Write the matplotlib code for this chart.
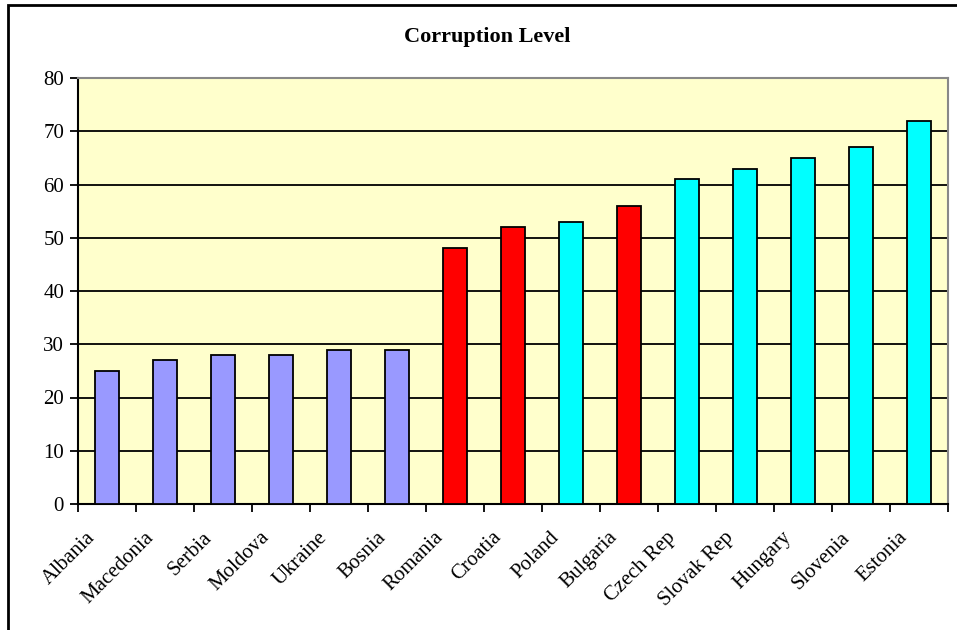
import matplotlib
matplotlib.use("Agg")
import matplotlib.pyplot as plt
from matplotlib.patches import Rectangle
from matplotlib.transforms import ScaledTranslation, blended_transform_factory

countries = ["Albania", "Macedonia", "Serbia", "Moldova", "Ukraine", "Bosnia",
             "Romania", "Croatia", "Poland", "Bulgaria", "Czech Rep",
             "Slovak Rep", "Hungary", "Slovenia", "Estonia"]
scores = [25, 27, 28, 28, 29, 29, 48, 52, 53, 56, 61, 63, 65, 67, 72]
groups = ["low", "low", "low", "low", "low", "low", "mid", "mid", "high",
          "mid", "high", "high", "high", "high", "high"]
y_ticks = [0, 10, 20, 30, 40, 50, 60, 70, 80]

group_colors = {"low": "#9999FF", "mid": "#FF0000", "high": "#00FFFF"}

plt.rcParams["font.family"] = ["Liberation Serif", "DejaVu Serif"]

W, H = 957, 630
fig = plt.figure(figsize=(W / 100, H / 100), dpi=100)
ax = fig.add_axes([78 / W, (H - 504) / H, (948 - 78) / W, (504 - 78) / H])
ax.set_facecolor("#FFFFCC")

xs = list(range(len(countries)))
ax.bar(xs, scores, width=0.42, color=[group_colors[g] for g in groups],
       edgecolor="black", linewidth=1.3, zorder=3)

ax.set_xlim(-0.5, len(countries) - 0.5)
ax.set_ylim(y_ticks[0], y_ticks[-1])
ax.set_yticks(y_ticks)
ax.set_yticklabels([str(v) for v in y_ticks], fontsize=15)
ax.yaxis.grid(True, color="black", linewidth=1.3, zorder=1)
ax.set_axisbelow(True)
ax.tick_params(axis="y", direction="out", length=6, width=1.3, pad=4)

# category boundary ticks on the x axis
ax.set_xticks([i - 0.5 for i in range(len(countries) + 1)])
ax.set_xticklabels([])
ax.tick_params(axis="x", direction="out", length=6, width=1.3)

# rotated category names
trans = blended_transform_factory(ax.transData, ax.transAxes)
for i, name in enumerate(countries):
    t = trans + ScaledTranslation(-21 / 100, -24 / 100, fig.dpi_scale_trans)
    ax.text(i, 0, name, transform=t, rotation=45, ha="right", va="top",
            rotation_mode="anchor", fontsize=15)

for side in ("left", "bottom"):
    ax.spines[side].set_color("black")
    ax.spines[side].set_linewidth(1.5)
for side in ("top", "right"):
    ax.spines[side].set_color("#888888")
    ax.spines[side].set_linewidth(1.5)

fig.text(487 / W, 1 - 37 / H, "Corruption Level", ha="center", va="center",
         fontsize=16, fontweight="bold")

# chart border
fig.add_artist(Rectangle((8 / W, -0.2), 2.0, 1.2 - 5 / H, transform=fig.transFigure,
                         fill=False, edgecolor="black", linewidth=2))

fig.savefig("out.png", dpi=100, facecolor="white")
